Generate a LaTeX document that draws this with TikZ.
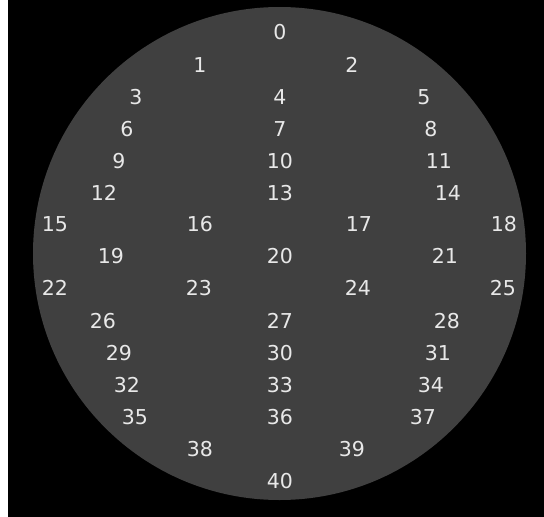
\documentclass[tikz,border=0pt]{standalone}
\usepackage{fontspec}
\setmainfont{DejaVu Sans}
\usepackage{tikz}
\usetikzlibrary{positioning}
\definecolor{dialgray}{HTML}{404040}
\definecolor{numwhite}{HTML}{E8E8E8}

\begin{document}
\begin{tikzpicture}[x=1pt, y=-1pt,
      num/.style={text=numwhite, inner sep=0pt, font=\fontsize{20.5}{20.5}\selectfont}]
      \useasboundingbox (0,0) rectangle (544,517);
      \fill[white] (0,0) rectangle (544,517);
      \fill[black] (8,0) rectangle (544,517);
      \fill[dialgray] (279.5,253.5) circle (246.5);
      % field positions, row by row
      \foreach \n/\x/\y in {0/280/32,
          1/200/65, 2/352/65,
          3/136/97, 4/280/97, 5/424/97,
          6/127/129, 7/280/129, 8/431/129,
          9/119/161, 10/280/161, 11/439/161,
          12/104/193, 13/280/193, 14/448/193,
          15/55/224, 16/200/224, 17/359/224, 18/504/224,
          19/111/256, 20/280/256, 21/445/256,
          22/55/288, 23/199/288, 24/358/288, 25/503/288,
          26/103/321, 27/280/321, 28/447/321,
          29/119/353, 30/280/353, 31/438/353,
          32/127/385, 33/280/385, 34/431/385,
          35/135/417, 36/280/417, 37/423/417,
          38/200/449, 39/352/449,
          40/280/481}
        \node[num] (f\n) at (\x,\y) {\n};
    \end{tikzpicture}
\end{document}
